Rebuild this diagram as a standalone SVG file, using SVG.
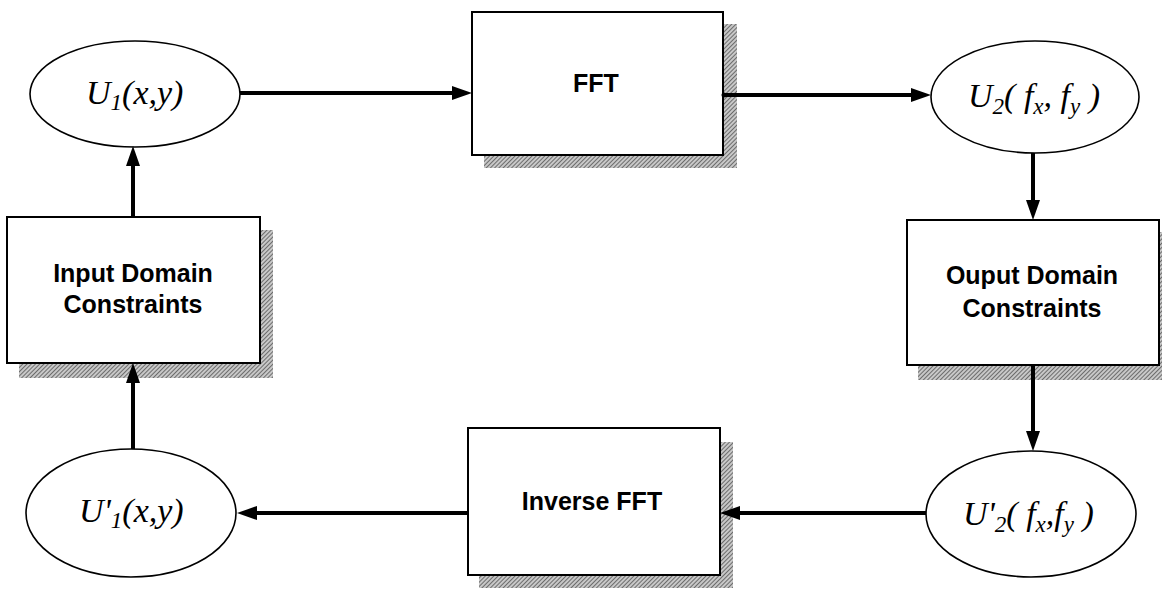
<svg xmlns="http://www.w3.org/2000/svg" width="1162" height="590" viewBox="0 0 1162 590">
<style>
.box{fill:#fff;stroke:#000;stroke-width:2}
.shadow{fill:url(#hatch);stroke:none}
.ell{fill:#fff;stroke:#000;stroke-width:1.6}
.lbl{font-family:"Liberation Sans",Arial,sans-serif;font-weight:bold;font-size:25px;text-anchor:middle;fill:#000}
.math{font-family:"Liberation Serif","Times New Roman",serif;font-style:italic;font-size:34px;fill:#000}
.sub{font-size:23px}
.conn{stroke:#000;stroke-width:4;fill:none;marker-end:url(#ah)}
</style>
<defs>
<pattern id="hatch" patternUnits="userSpaceOnUse" width="3" height="3" patternTransform="rotate(45)">
<rect width="3" height="3" fill="#c8c8c8"/>
<line x1="0" y1="0" x2="0" y2="3" stroke="#444" stroke-width="1.4"/>
</pattern>
<marker id="ah" markerUnits="userSpaceOnUse" markerWidth="22" markerHeight="16" refX="8" refY="7" orient="auto">
<path d="M0,0 L20,7 L0,14 Z" fill="#000"/>
</marker>
</defs>
<g id="u1">
<ellipse class="ell" cx="135" cy="94" rx="105" ry="53"/>
<text class="math" x="86" y="104">U<tspan class="sub" dy="6">1</tspan><tspan dy="-6">(x,y)</tspan></text>
</g>
<g id="fft">
<rect class="shadow" x="484" y="24" width="253" height="144"/>
<rect class="box" x="472" y="12" width="251" height="143"/>
<text class="lbl" x="596" y="92">FFT</text>
</g>
<g id="u2">
<ellipse class="ell" cx="1035" cy="97" rx="104" ry="56"/>
<text class="math" x="968" y="107">U<tspan class="sub" dy="7">2</tspan><tspan dy="-7">( f</tspan><tspan class="sub" dy="7">x</tspan><tspan dy="-7">, f</tspan><tspan class="sub" dy="7">y</tspan><tspan dy="-7"> )</tspan></text>
</g>
<g id="odc">
<rect class="shadow" x="918" y="232" width="254" height="148"/>
<rect class="box" x="907" y="220" width="252" height="145"/>
<text class="lbl" x="1032" y="284">Ouput Domain</text>
<text class="lbl" x="1032" y="317">Constraints</text>
</g>
<g id="u2p">
<ellipse class="ell" cx="1031" cy="514" rx="105" ry="63"/>
<text class="math" x="963" y="525">U'<tspan class="sub" dy="7">2</tspan><tspan dy="-7">( f</tspan><tspan class="sub" dy="7">x</tspan><tspan dy="-7">,f</tspan><tspan class="sub" dy="7">y</tspan><tspan dy="-7"> )</tspan></text>
</g>
<g id="ifft">
<rect class="shadow" x="479" y="442" width="254" height="146"/>
<rect class="box" x="468" y="428" width="252" height="147"/>
<text class="lbl" x="592" y="510">Inverse FFT</text>
</g>
<g id="u1p">
<ellipse class="ell" cx="131" cy="513" rx="105" ry="64"/>
<text class="math" x="79" y="522">U'<tspan class="sub" dy="6">1</tspan><tspan dy="-6">(x,y)</tspan></text>
</g>
<g id="idc">
<rect class="shadow" x="19" y="230" width="254" height="148"/>
<rect class="box" x="7" y="217" width="253" height="146"/>
<text class="lbl" x="133" y="282">Input Domain</text>
<text class="lbl" x="133" y="313">Constraints</text>
</g>
<g id="connectors">
<path class="conn" d="M240,93 L460,93"/>
<path class="conn" d="M723,95 L919,95"/>
<circle cx="724" cy="95" r="2.5" fill="#000"/>
<path class="conn" d="M1033,153 L1033,208"/>
<path class="conn" d="M1033,365 L1033,439"/>
<path class="conn" d="M926,513 L732,513"/>
<path class="conn" d="M468,513 L249,513"/>
<path class="conn" d="M133,449 L133,375"/>
<path class="conn" d="M133,217 L133,158"/>
</g>
</svg>
